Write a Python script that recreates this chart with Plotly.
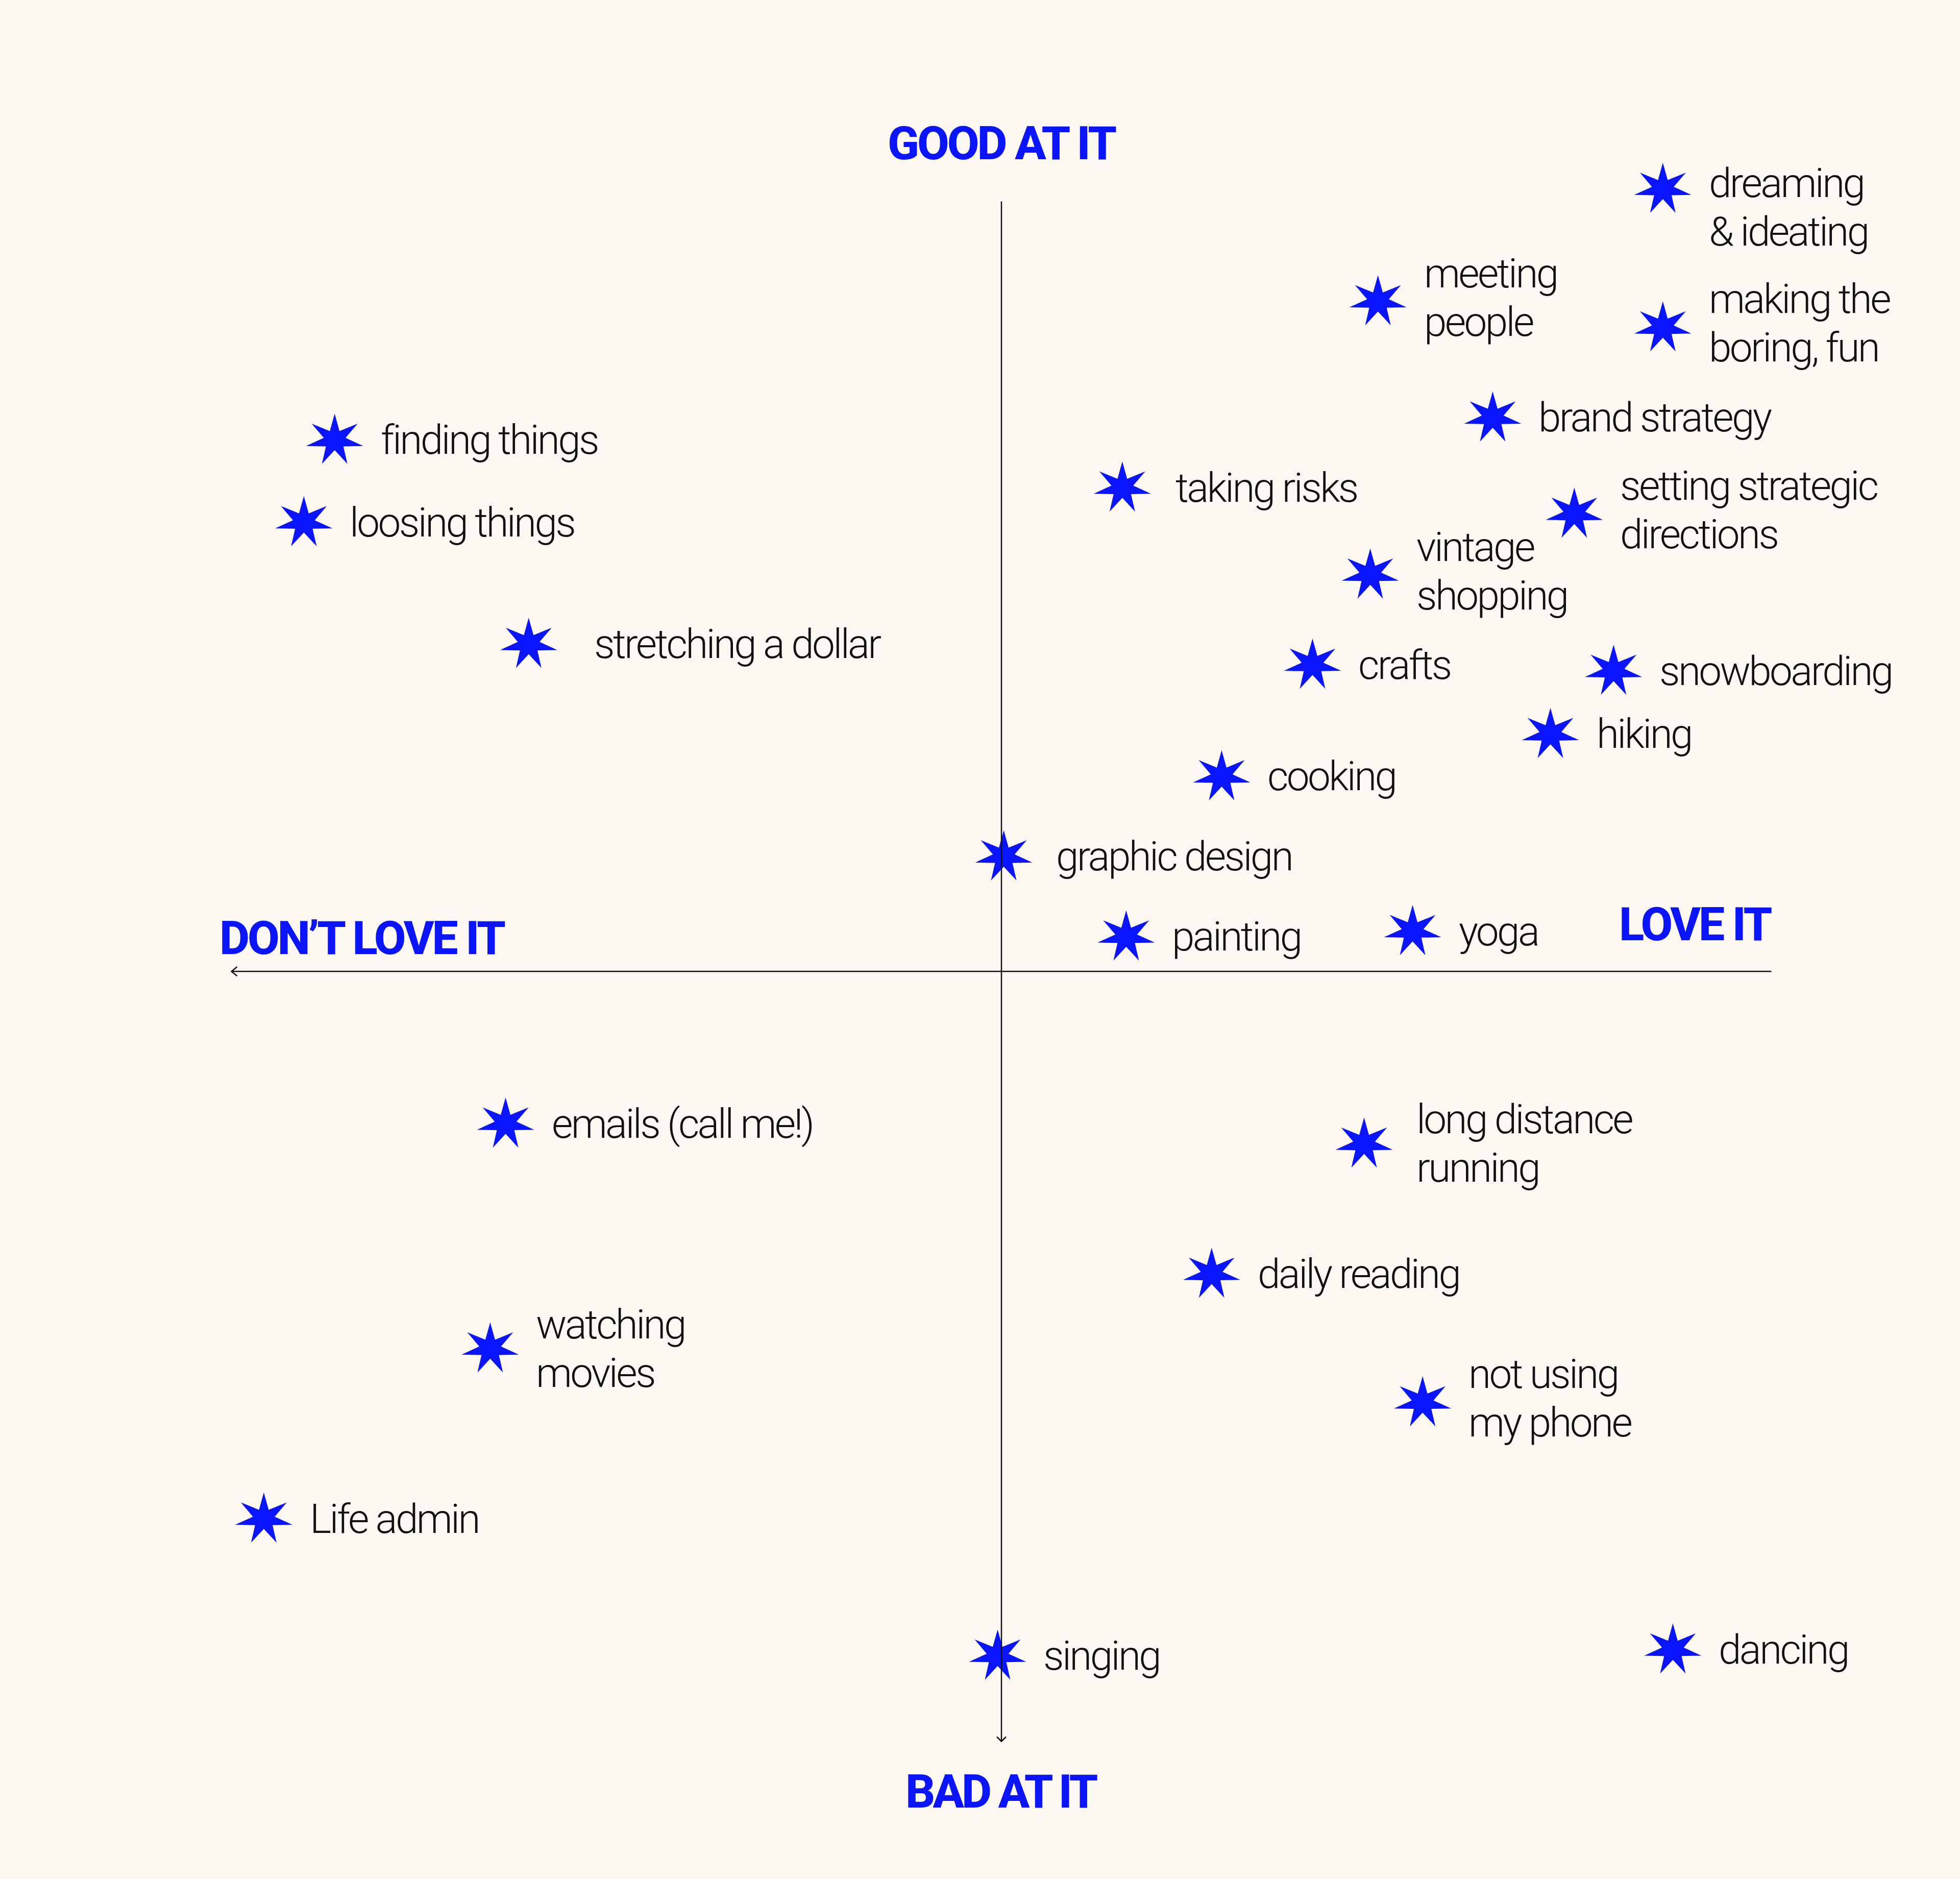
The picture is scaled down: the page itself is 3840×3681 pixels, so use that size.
import math
import plotly.graph_objects as go

# ---------------- data ----------------
labels = [
    "dreaming\n& ideating", "meeting\npeople", "making the\nboring, fun", "brand strategy",
    "finding things", "taking risks", "setting strategic\ndirections", "loosing things",
    "vintage\nshopping", "stretching a dollar", "crafts", "snowboarding", "hiking",
    "cooking", "graphic design", "painting", "yoga", "emails (call me!)",
    "long distance\nrunning", "daily reading", "watching\nmovies", "not using\nmy phone",
    "Life admin", "singing", "dancing",
]
love_it = [
    8.59, 4.89, 8.59, 6.38,
    -8.66, 1.57, 7.44, -9.06,
    4.79, -6.14, 4.04, 7.95, 7.13,
    2.86, 0.03, 1.62, 5.34, -6.44,
    4.71, 2.73, -6.64, 5.47,
    -9.58, -0.05, 8.72,
]
good_at_it = [
    10.16, 8.70, 8.36, 7.19,
    6.90, 6.28, 5.94, 5.83,
    5.15, 4.25, 3.98, 3.90, 3.08,
    2.53, 1.49, 0.45, 0.52, -1.98,
    -2.24, -3.93, -4.90, -5.60,
    -7.11, -8.89, -8.81,
]
axis_titles = ["GOOD AT IT", "BAD AT IT", "DON\u2019T LOVE IT", "LOVE IT"]

# ---------------- style ----------------
BLUE = "#0A14FF"
BG = "#FDF9F2"
INK = "#111111"
W, H = 3840, 3681
CX, CY = 1962, 1903          # pixel position of the origin
PPU = 150.85                 # pixels per unit
x_range = [(0 - CX) / PPU, (W - CX) / PPU]
y_range = [(CY - H) / PPU, CY / PPU]

FAMILY = "Roboto, 'Liberation Sans', sans-serif"
LABEL_PX = 80                # glyph size of the labels
LINE_GAP = 95                # distance between the two lines of a label
# plotly spaces lines by 1.3em of the text element: use that size for the element
LABEL_FONT = dict(family=FAMILY, size=LINE_GAP / 1.3, color=INK, weight=300)
TITLE_FONT = dict(family=FAMILY, size=91, color=BLUE, weight=800)
LABEL_TRACKING = -3.6
TITLE_TRACKING = -4
X_GAP = 89
BASE_YSHIFT = 0
x_gap_override = {"stretching a dollar": 127, "taking risks": 103, "graphic design": 101,
                  "long distance\nrunning": 101}
y_shift_override = {"dreaming\n& ideating": -36, "meeting\npeople": 7, "making the\nboring, fun": 8,
                    "setting strategic\ndirections": 7, "vintage\nshopping": 7,
                    "not using\nmy phone": 8}


def styled(txt, px, size=None):
    txt = txt.replace("&", "&amp;")
    css = f"letter-spacing:{px}px"
    if size:
        css = f"font-size:{size}px;" + css
    return f'<span style="{css}">{txt}</span>'


def star_path(Rx=57.5, Ry=51.7, ratio=0.38, n=7):
    pts = []
    for k in range(2 * n):
        ang = math.pi / 2 + k * math.pi / n
        s = 1.0 if k % 2 == 0 else ratio
        pts.append((s * Rx * math.cos(ang), s * Ry * math.sin(ang)))
    return "M " + " L ".join(f"{px:.2f},{py:.2f}" for px, py in pts) + " Z"


STAR = star_path()

fig = go.Figure()
fig.add_trace(go.Scatter(
    x=love_it, y=good_at_it, mode="markers",
    marker=dict(size=30, color=BLUE, opacity=0),
    hovertext=[l.replace("\n", " ") for l in labels], hoverinfo="text",
    showlegend=False,
))

shapes = []
for xv, yv in zip(love_it, good_at_it):
    shapes.append(dict(type="path", xref="x", yref="y", xsizemode="pixel", ysizemode="pixel",
                       xanchor=xv, yanchor=yv, path=STAR, fillcolor=BLUE,
                       line=dict(width=0), layer="above"))

# axes (drawn above the stars, as in the reference)
shapes.append(dict(type="line", xref="x", yref="y", x0=0, x1=0, y0=-10.0, y1=10.0,
                   line=dict(color=INK, width=2.5), layer="above"))
shapes.append(dict(type="line", xref="x", yref="y", x0=-10.0, x1=10.0, y0=0, y1=0,
                   line=dict(color=INK, width=2.5), layer="above"))
# arrow heads
shapes.append(dict(type="path", xref="x", yref="y", xsizemode="pixel", ysizemode="pixel",
                   xanchor=-10.0, yanchor=0, path="M 11,9 L 0,0 L 11,-9",
                   line=dict(color=INK, width=2.5), layer="above"))
shapes.append(dict(type="path", xref="x", yref="y", xsizemode="pixel", ysizemode="pixel",
                   xanchor=0, yanchor=-10.0, path="M -9,9 L 0,0 L 9,9",
                   line=dict(color=INK, width=2.5), layer="above"))

annotations = []
for lab, xv, yv in zip(labels, love_it, good_at_it):
    text = "<br>".join(styled(ln, LABEL_TRACKING, LABEL_PX) for ln in lab.split("\n"))
    annotations.append(dict(
        x=xv, y=yv, xref="x", yref="y", text=text, showarrow=False,
        xanchor="left", yanchor="middle", align="left", borderpad=0,
        xshift=x_gap_override.get(lab, X_GAP),
        yshift=BASE_YSHIFT + y_shift_override.get(lab, 0),
        font=LABEL_FONT,
    ))

title_pos = [
    dict(x=1963 / W, y=1 - 281 / H, xanchor="center"),
    dict(x=1962 / W, y=1 - 3510 / H, xanchor="center"),
    dict(x=428 / W, y=1 - 1838 / H, xanchor="left"),
    dict(x=3474 / W, y=1 - 1811 / H, xanchor="right"),
]
title_tracking = [TITLE_TRACKING, TITLE_TRACKING - 1, TITLE_TRACKING, TITLE_TRACKING]
for t, p, trk in zip(axis_titles, title_pos, title_tracking):
    annotations.append(dict(text=styled(t, trk), xref="paper", yref="paper",
                            showarrow=False, yanchor="middle", font=TITLE_FONT, **p))

fig.update_layout(
    width=W, height=H,
    margin=dict(l=0, r=0, t=0, b=0),
    paper_bgcolor=BG, plot_bgcolor=BG,
    xaxis=dict(range=x_range, visible=False, fixedrange=True),
    yaxis=dict(range=y_range, visible=False, fixedrange=True),
    shapes=shapes, annotations=annotations,
    showlegend=False,
)

fig.write_html("out.html")
